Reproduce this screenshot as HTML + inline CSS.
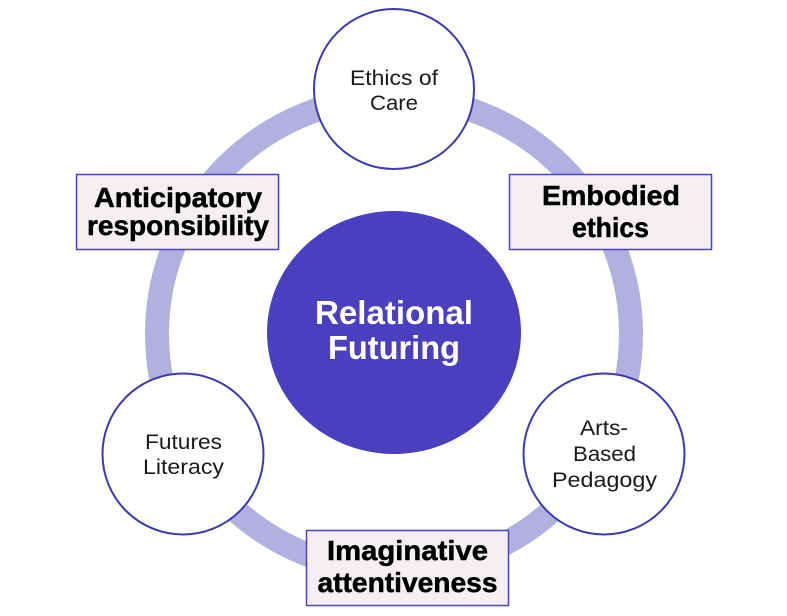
<!DOCTYPE html>
<html>
<head>
<meta charset="utf-8">
<style>
html,body{margin:0;padding:0;background:#ffffff;}
svg{display:block;}
text{font-family:"Liberation Sans",sans-serif;}
.r{font-size:21px;fill:#1a1a1a;}
.b{font-size:28px;font-weight:bold;fill:#000;stroke:#000;stroke-width:0.5px;}
.c{font-size:33px;font-weight:bold;fill:#ffffff;}
</style>
</head>
<body>
<svg width="787" height="616" viewBox="0 0 787 616" xmlns="http://www.w3.org/2000/svg">
  <rect width="787" height="616" fill="#ffffff"/>
  <!-- ring -->
  <circle cx="394" cy="334" r="237" fill="none" stroke="#b2b0de" stroke-width="24"/>

  <!-- center -->
  <ellipse cx="394" cy="332.5" rx="127" ry="121.5" fill="#4a40bf"/>
  <text class="c" x="394" y="324" text-anchor="middle" textLength="158" lengthAdjust="spacingAndGlyphs">Relational</text>
  <text class="c" x="394" y="359" text-anchor="middle" textLength="132" lengthAdjust="spacingAndGlyphs">Futuring</text>

  <!-- top circle -->
  <circle cx="394" cy="89" r="80" fill="#ffffff" stroke="#3f37b3" stroke-width="2"/>
  <text class="r" x="394" y="85" text-anchor="middle" textLength="88" lengthAdjust="spacingAndGlyphs">Ethics of</text>
  <text class="r" x="394" y="110" text-anchor="middle" textLength="48" lengthAdjust="spacingAndGlyphs">Care</text>

  <!-- left circle -->
  <circle cx="183" cy="454" r="80.5" fill="#ffffff" stroke="#3f37b3" stroke-width="2"/>
  <text class="r" x="183.5" y="449" text-anchor="middle" textLength="77" lengthAdjust="spacingAndGlyphs">Futures</text>
  <text class="r" x="183.5" y="474" text-anchor="middle" textLength="81" lengthAdjust="spacingAndGlyphs">Literacy</text>

  <!-- right circle -->
  <circle cx="604" cy="454" r="80.5" fill="#ffffff" stroke="#3f37b3" stroke-width="2"/>
  <text class="r" x="604" y="435" text-anchor="middle" textLength="48" lengthAdjust="spacingAndGlyphs">Arts-</text>
  <text class="r" x="604.5" y="461" text-anchor="middle" textLength="63" lengthAdjust="spacingAndGlyphs">Based</text>
  <text class="r" x="604.5" y="487" text-anchor="middle" textLength="105" lengthAdjust="spacingAndGlyphs">Pedagogy</text>

  <!-- boxes -->
  <rect x="76.5" y="174.5" width="202" height="75" fill="#f3eff3" stroke="#4b43c6" stroke-width="1.5"/>
  <text class="b" x="178" y="207" text-anchor="middle" textLength="168" lengthAdjust="spacingAndGlyphs">Anticipatory</text>
  <text class="b" x="178" y="235" text-anchor="middle" textLength="182" lengthAdjust="spacingAndGlyphs">responsibility</text>

  <rect x="509.5" y="174.5" width="202" height="75" fill="#f3eff3" stroke="#4b43c6" stroke-width="1.5"/>
  <text class="b" x="611" y="205" text-anchor="middle" textLength="138" lengthAdjust="spacingAndGlyphs">Embodied</text>
  <text class="b" x="610.5" y="237" text-anchor="middle" textLength="77" lengthAdjust="spacingAndGlyphs">ethics</text>

  <rect x="306.5" y="530.5" width="202" height="75" fill="#f3eff3" stroke="#4b43c6" stroke-width="1.5"/>
  <text class="b" x="407.5" y="560" text-anchor="middle" textLength="161" lengthAdjust="spacingAndGlyphs">Imaginative</text>
  <text class="b" x="407.5" y="592" text-anchor="middle" textLength="180" lengthAdjust="spacingAndGlyphs">attentiveness</text>
</svg>
</body>
</html>
